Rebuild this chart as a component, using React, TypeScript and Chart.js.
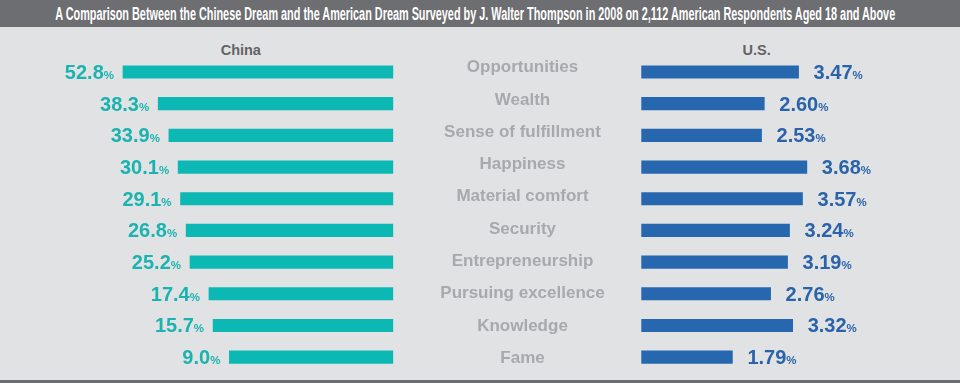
import React, { useEffect, useLayoutEffect, useRef } from "react";
import { Chart, registerables } from "chart.js";

Chart.register(...registerables);

const TITLE =
  "A Comparison Between the Chinese Dream and the American Dream Surveyed by J. Walter Thompson in 2008 on 2,112 American Respondents Aged 18 and Above";

const categories = [
  "Opportunities",
  "Wealth",
  "Sense of fulfillment",
  "Happiness",
  "Material comfort",
  "Security",
  "Entrepreneurship",
  "Pursuing excellence",
  "Knowledge",
  "Fame",
];

const chinaValues = [52.8, 38.3, 33.9, 30.1, 29.1, 26.8, 25.2, 17.4, 15.7, 9.0];
const usValues = [3.47, 2.6, 2.53, 3.68, 3.57, 3.24, 3.19, 2.76, 3.32, 1.79];

const chinaHeader = "China";
const usHeader = "U.S.";

// axis ranges (data units)
const chinaAxisMin = -58.5;
const chinaAxisMax = 95.2;
const usAxisMin = -0.523;
const usAxisMax = 7.06;
const labelAxisMin = -0.311;
const labelAxisMax = 9.505;

const FONT = '"Liberation Sans", Arial, Helvetica, sans-serif';
const TEAL = "#0cb8b4";
const TEAL_TEXT = "#1bb3af";
const BLUE = "#2767b0";
const BLUE_TEXT = "#2a63aa";
const LABEL_GREY = "#a7a9ac";
const HEADER_GREY = "#626366";
const BAR_GREY = "#6d6e71";
const BG = "#e1e2e4";

function valueLabels(values: number[], decimals: number, side: "left" | "right", color: string) {
  return {
    id: "valueLabels_" + side,
    afterDatasetsDraw(chart: any) {
      const ctx = chart.ctx as CanvasRenderingContext2D;
      const meta = chart.getDatasetMeta(0);
      ctx.save();
      ctx.fillStyle = color;
      ctx.textBaseline = "alphabetic";
      meta.data.forEach((bar: any, i: number) => {
        const num = values[i].toFixed(decimals);
        const y = bar.y + 7;
        if (side === "left") {
          const xEnd = bar.x - 9;
          ctx.font = `bold 11.5px ${FONT}`;
          const pw = ctx.measureText("%").width;
          ctx.textAlign = "right";
          ctx.fillText("%", xEnd, y);
          ctx.font = `bold 20px ${FONT}`;
          ctx.fillText(num, xEnd - pw, y);
        } else {
          let x = bar.x + 15;
          ctx.textAlign = "left";
          ctx.font = `bold 20px ${FONT}`;
          ctx.fillText(num, x, y);
          x += ctx.measureText(num).width;
          ctx.font = `bold 11.5px ${FONT}`;
          ctx.fillText("%", x, y);
        }
      });
      ctx.restore();
    },
  };
}

const categoryLabels = {
  id: "categoryLabels",
  afterDatasetsDraw(chart: any) {
    const ctx = chart.ctx as CanvasRenderingContext2D;
    const s = chart.scales.yl;
    const cx = chart.chartArea.left - 118.8;
    ctx.save();
    ctx.font = `bold 17px ${FONT}`;
    ctx.fillStyle = LABEL_GREY;
    ctx.textAlign = "center";
    ctx.textBaseline = "alphabetic";
    categories.forEach((c, i) => {
      ctx.fillText(c, cx, s.getPixelForValue(i) + 6.1);
    });
    ctx.restore();
  },
};

export default function App() {
  const leftRef = useRef<HTMLCanvasElement>(null);
  const rightRef = useRef<HTMLCanvasElement>(null);
  const titleRef = useRef<HTMLSpanElement>(null);

  useLayoutEffect(() => {
    const el = titleRef.current;
    if (!el) return;
    el.style.transform = "none";
    const w = el.getBoundingClientRect().width;
    if (w > 0) el.style.transform = `scaleX(${840 / w})`;
  }, []);

  useEffect(() => {
    if (!leftRef.current || !rightRef.current) return;
    const left = new Chart(leftRef.current, {
      type: "bar",
      data: {
        labels: categories,
        datasets: [
          {
            data: chinaValues,
            backgroundColor: TEAL,
            base: chinaAxisMin,
            barThickness: 12.5,
            borderWidth: 0,
          } as any,
        ],
      },
      options: {
        indexAxis: "y",
        animation: false,
        responsive: false,
        maintainAspectRatio: false,
        events: [],
        layout: { padding: { left: 20, right: 6.7, top: 29.15, bottom: 0 } },
        scales: {
          x: { type: "linear", min: chinaAxisMin, max: chinaAxisMax, reverse: true, display: false },
          y: { type: "category", display: false },
        },
        plugins: { legend: { display: false }, tooltip: { enabled: false }, title: { display: false } },
      },
      plugins: [valueLabels(chinaValues, 1, "left", TEAL_TEXT)],
    });

    const right = new Chart(rightRef.current, {
      type: "bar",
      data: {
        labels: categories,
        datasets: [
          {
            data: usValues,
            backgroundColor: BLUE,
            base: usAxisMin,
            barThickness: 12.5,
            borderWidth: 0,
          } as any,
        ],
      },
      options: {
        indexAxis: "y",
        animation: false,
        responsive: false,
        maintainAspectRatio: false,
        events: [],
        layout: { padding: { left: 241.3, right: 20, top: 29.15, bottom: 0 } },
        scales: {
          x: { type: "linear", min: usAxisMin, max: usAxisMax, display: false },
          y: { type: "category", display: false },
          yl: {
            type: "linear",
            axis: "y",
            min: labelAxisMin,
            max: labelAxisMax,
            reverse: true,
            offset: false,
            grace: 0,
            display: false,
          } as any,
        },
        plugins: { legend: { display: false }, tooltip: { enabled: false }, title: { display: false } },
      },
      plugins: [valueLabels(usValues, 2, "right", BLUE_TEXT), categoryLabels],
    });

    return () => {
      left.destroy();
      right.destroy();
    };
  }, []);

  const headerStyle: React.CSSProperties = {
    position: "absolute",
    top: 42.2,
    width: 200,
    textAlign: "center",
    fontFamily: FONT,
    fontWeight: "bold",
    fontSize: 14.5,
    lineHeight: "16px",
    color: HEADER_GREY,
    whiteSpace: "nowrap",
  };

  return (
    <div
      style={{
        position: "absolute",
        left: 0,
        top: 0,
        width: 960,
        height: 383,
        background: BG,
        overflow: "hidden",
      }}
    >
      <div style={{ position: "absolute", left: 0, top: 0, width: 960, height: 27, background: BAR_GREY }} />
      <div
        style={{
          position: "absolute",
          left: 0,
          top: 0,
          width: 950,
          height: 27,
          display: "flex",
          justifyContent: "center",
          alignItems: "flex-start",
        }}
      >
        <span
          ref={titleRef}
          style={{
            display: "inline-block",
            flexShrink: 0,
            whiteSpace: "nowrap",
            fontFamily: '"Liberation Sans Narrow", "Arial Narrow", "Liberation Sans", Arial, sans-serif',
            fontWeight: "bold",
            fontSize: 18,
            lineHeight: "27px",
            paddingTop: 1,
            color: "#ffffff",
            transformOrigin: "50% 50%",
          }}
        >
          {TITLE}
        </span>
      </div>
      <div style={{ position: "absolute", left: 0, top: 380, width: 960, height: 3, background: BAR_GREY }} />
      <div style={{ ...headerStyle, left: 240.8 - 100 }}>{chinaHeader}</div>
      <div style={{ ...headerStyle, left: 756.7 - 100 }}>{usHeader}</div>
      <canvas
        ref={leftRef}
        width={400}
        height={346}
        style={{ position: "absolute", left: 0, top: 27, width: 400, height: 346 }}
      />
      <canvas
        ref={rightRef}
        width={560}
        height={346}
        style={{ position: "absolute", left: 400, top: 27, width: 560, height: 346 }}
      />
    </div>
  );
}
